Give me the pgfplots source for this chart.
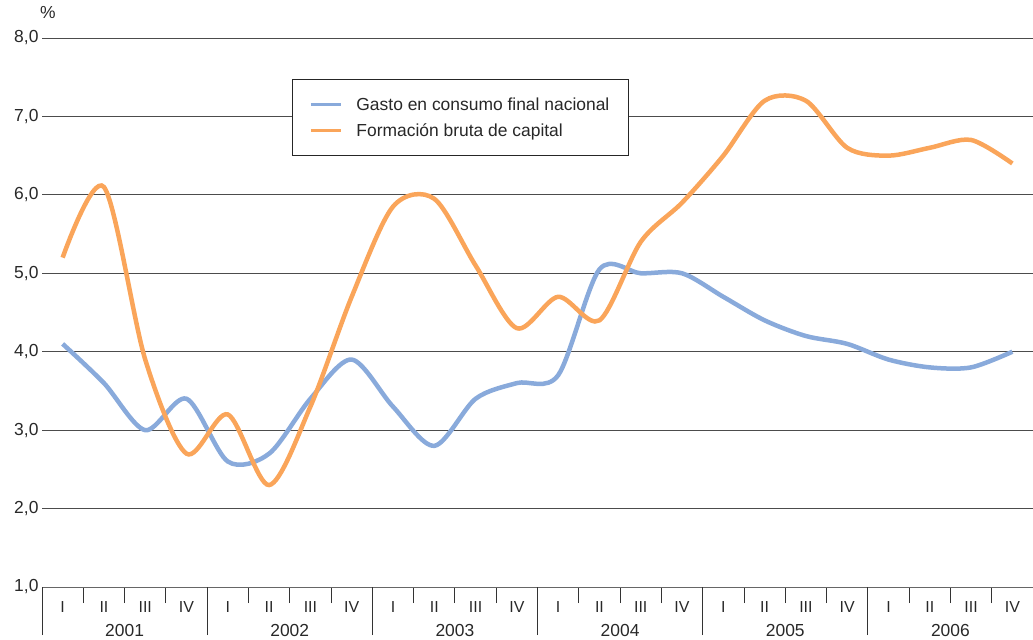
\documentclass[border=0pt]{standalone}
\usepackage{fontspec}
\setmainfont{Liberation Sans}
\usepackage{pgfplots}
\pgfplotsset{compat=1.18}
\definecolor{cblue}{RGB}{137,170,219}
\definecolor{corange}{RGB}{250,165,90}
\definecolor{txt}{RGB}{40,40,40}
\begin{document}
\begin{tikzpicture}
\path[use as bounding box] (-42bp,-53bp) rectangle (991bp,587bp);
\begin{axis}[
  at={(0,0)}, anchor=south west,
  scale only axis, width=991bp, height=549bp,
  xmin=0, xmax=24, ymin=1, ymax=8,
  clip=false,
  axis x line*=bottom, axis y line*=left,
  y axis line style={draw=none},
  x axis line style={draw=black!60, line width=1bp, -},
  ytick={1,...,8},
  yticklabels={{1,0},{2,0},{3,0},{4,0},{5,0},{6,0},{7,0},{8,0}},
  ytick style={draw=none},
  yticklabel style={font=\fontsize{17.5}{20}\selectfont, text=txt},
  ymajorgrids, grid style={draw=black!70, line width=1bp},
  xtick={0.5,1.5,...,23.5},
  xticklabels={I,II,III,IV,I,II,III,IV,I,II,III,IV,I,II,III,IV,I,II,III,IV,I,II,III,IV},
  xticklabel style={font=\fontsize{16}{19}\selectfont, text=txt, yshift=-11bp},
  major tick length=0pt,
  minor xtick={1,2,3,5,6,7,9,10,11,13,14,15,17,18,19,21,22,23},
  minor tick length=16bp,
  xtick align=outside,
  xtick style={draw=black!80, line width=0.9bp},
  extra x ticks={0,4,8,12,16,20,24},
  extra x tick labels={},
  extra x tick style={major tick length=48bp, xtick style={draw=black!80, line width=0.9bp}},
  legend style={at={(0.2523,0.9253)}, anchor=north west, draw=black!85, line width=0.8bp,
    font=\fontsize{17.5}{21}\selectfont, text=txt, inner xsep=17bp, inner ysep=16bp, row sep=8bp,
    /tikz/every odd column/.append style={column sep=12bp}},
  legend cell align=left,
  legend image code/.code={\draw[#1, line width=3bp] (0bp,0bp) -- (30bp,0bp);},
]
\addplot[cblue, line width=4.5bp, smooth] coordinates {
(0.5,4.1) (1.5,3.6) (2.5,3.0) (3.5,3.4)
(4.5,2.6) (5.5,2.7) (6.5,3.4) (7.5,3.9)
(8.5,3.3) (9.5,2.8) (10.5,3.4) (11.5,3.6)
(12.5,3.7) (13.5,5.05) (14.5,5.0) (15.5,5.0)
(16.5,4.7) (17.5,4.4) (18.5,4.2) (19.5,4.1)
(20.5,3.9) (21.5,3.8) (22.5,3.8) (23.5,4.0)};
\addplot[corange, line width=4.5bp, smooth] coordinates {
(0.5,5.2) (1.5,6.1) (2.5,3.9) (3.5,2.7)
(4.5,3.2) (5.5,2.3) (6.5,3.3) (7.5,4.7)
(8.5,5.85) (9.5,5.95) (10.5,5.1) (11.5,4.3)
(12.5,4.7) (13.5,4.4) (14.5,5.4) (15.5,5.9)
(16.5,6.5) (17.5,7.2) (18.5,7.2) (19.5,6.6)
(20.5,6.5) (21.5,6.6) (22.5,6.7) (23.5,6.4)};
\legend{Gasto en consumo final nacional\hspace{8bp}, Formación bruta de capital}
\node[font=\fontsize{17.5}{20}\selectfont, text=txt] at (axis cs:2,1) [yshift=-43bp] {2001};
\node[font=\fontsize{17.5}{20}\selectfont, text=txt] at (axis cs:6,1) [yshift=-43bp] {2002};
\node[font=\fontsize{17.5}{20}\selectfont, text=txt] at (axis cs:10,1) [yshift=-43bp] {2003};
\node[font=\fontsize{17.5}{20}\selectfont, text=txt] at (axis cs:14,1) [yshift=-43bp] {2004};
\node[font=\fontsize{17.5}{20}\selectfont, text=txt] at (axis cs:18,1) [yshift=-43bp] {2005};
\node[font=\fontsize{17.5}{20}\selectfont, text=txt] at (axis cs:22,1) [yshift=-43bp] {2006};
\node[font=\fontsize{17.5}{20}\selectfont, text=txt, anchor=west, inner sep=0pt] at (axis cs:0,8) [xshift=-2bp, yshift=25bp] {\%};
\end{axis}
\end{tikzpicture}
\end{document}
